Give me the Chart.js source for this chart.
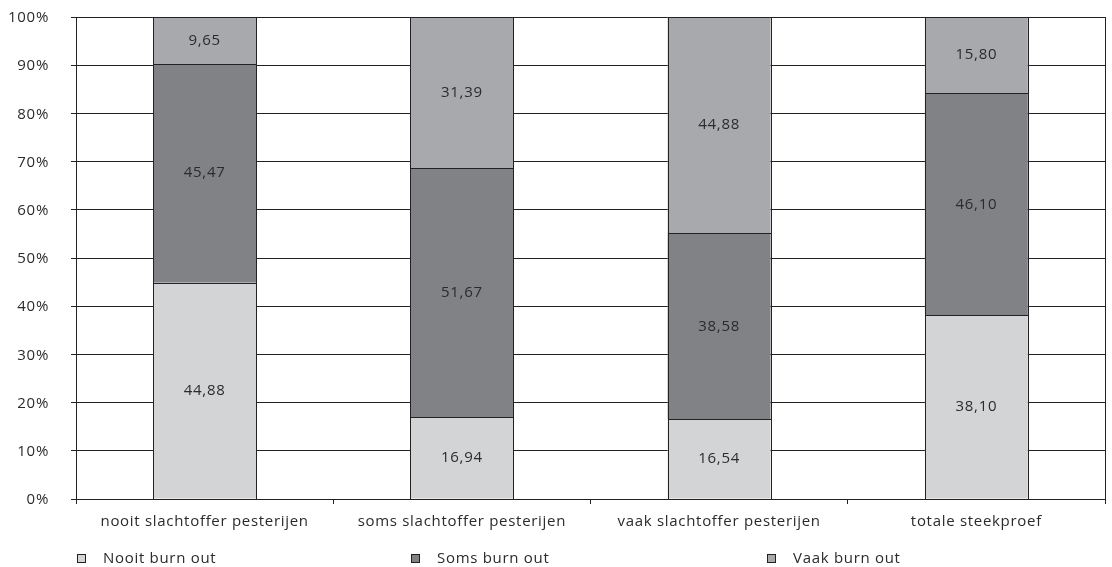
<!DOCTYPE html>
<html>
<head>
<meta charset="utf-8">
<script src="https://cdn.jsdelivr.net/npm/chart.js@4"></script>
<style>
  html, body { margin: 0; padding: 0; background: #fff; }
  #wrap { width: 1112px; height: 567px; }
</style>
</head>
<body>
<div id="wrap"><canvas id="c" width="1112" height="567"></canvas></div>
<script>
// Burn-out share (%) per bullying-victim group
const categories = ['nooit slachtoffer pesterijen', 'soms slachtoffer pesterijen', 'vaak slachtoffer pesterijen', 'totale steekproef'];
const seriesNames = ['Nooit burn out', 'Soms burn out', 'Vaak burn out'];
const nooitBurnOut = [44.88, 16.94, 16.54, 38.10];
const somsBurnOut  = [45.47, 51.67, 38.58, 46.10];
const vaakBurnOut  = [9.65, 31.39, 44.88, 15.80];
const yTicks = [0, 10, 20, 30, 40, 50, 60, 70, 80, 90, 100];

const FONT = '"Open Sans", "DejaVu Sans", sans-serif';
const TEXT = '#2b2b2b';
const LINE = '#222222';
const fills = ['#d3d4d6', '#818285', '#a8a9ac'];

const fmt = v => v.toFixed(2).replace('.', ',');

// Slightly airy letter spacing for all canvas text
const spacing = {
  id: 'spacing',
  beforeDraw(chart) { chart.ctx.letterSpacing = '0.7px'; }
};

// Crisp outlines round each stacked segment
const segmentOutlines = {
  id: 'segmentOutlines',
  afterDatasetsDraw(chart) {
    const ctx = chart.ctx;
    ctx.save();
    ctx.strokeStyle = LINE;
    ctx.lineWidth = 1;
    chart.data.datasets.forEach((ds, i) => {
      chart.getDatasetMeta(i).data.forEach(bar => {
        const p = bar.getProps(['x', 'y', 'base', 'width'], true);
        const l = Math.round(p.x - p.width / 2) + 0.5;
        const r = Math.round(p.x + p.width / 2) + 0.5;
        const t = Math.round(Math.min(p.y, p.base)) + 0.5;
        const b = Math.round(Math.max(p.y, p.base)) + 0.5;
        ctx.strokeRect(l, t, r - l, b - t);
      });
    });
    ctx.restore();
  }
};

// Value labels centred inside each segment
const segmentLabels = {
  id: 'segmentLabels',
  afterDatasetsDraw(chart) {
    const ctx = chart.ctx;
    ctx.save();
    ctx.font = '15px ' + FONT;
    ctx.fillStyle = TEXT;
    ctx.textAlign = 'center';
    ctx.textBaseline = 'middle';
    chart.data.datasets.forEach((ds, i) => {
      chart.getDatasetMeta(i).data.forEach((bar, j) => {
        const p = bar.getProps(['x', 'y', 'base'], true);
        ctx.fillText(fmt(ds.data[j]), p.x, (p.y + p.base) / 2);
      });
    });
    ctx.restore();
  }
};

// Right-hand frame line of the plot area
const frameRight = {
  id: 'frameRight',
  beforeDatasetsDraw(chart) {
    const a = chart.chartArea, ctx = chart.ctx;
    ctx.save();
    ctx.strokeStyle = LINE;
    ctx.lineWidth = 1;
    ctx.beginPath();
    ctx.moveTo(Math.round(a.right) + 0.5, a.top);
    ctx.lineTo(Math.round(a.right) + 0.5, a.bottom);
    ctx.stroke();
    ctx.restore();
  }
};

// Legend row along the bottom
const bottomLegend = {
  id: 'bottomLegend',
  afterDraw(chart) {
    const ctx = chart.ctx;
    const xs = [77, 411, 767];
    const y = 559;
    ctx.save();
    ctx.font = '15px ' + FONT;
    ctx.textBaseline = 'middle';
    ctx.textAlign = 'left';
    seriesNames.forEach((name, i) => {
      ctx.fillStyle = fills[i];
      ctx.fillRect(xs[i] + 0.5, y - 4.5, 8, 8);
      ctx.strokeStyle = LINE;
      ctx.lineWidth = 1;
      ctx.strokeRect(xs[i] + 0.5, y - 4.5, 8, 8);
      ctx.fillStyle = TEXT;
      ctx.fillText(name, xs[i] + 26, y);
    });
    ctx.restore();
  }
};

const series = [nooitBurnOut, somsBurnOut, vaakBurnOut];

new Chart(document.getElementById('c'), {
  type: 'bar',
  data: {
    labels: categories,
    datasets: series.map((d, i) => ({
      label: seriesNames[i],
      data: d,
      backgroundColor: fills[i],
      borderWidth: 0,
      categoryPercentage: 0.4,
      barPercentage: 1.0
    }))
  },
  options: {
    responsive: false,
    animation: false,
    layout: { padding: { top: 17, right: 7, left: 0, bottom: 0 } },
    plugins: {
      legend: { display: false },
      tooltip: { enabled: false }
    },
    scales: {
      x: {
        stacked: true,
        offset: true,
        grid: {
          offset: true,
          drawOnChartArea: false,
          drawTicks: true,
          tickLength: 5,
          color: LINE
        },
        border: { color: LINE, width: 1 },
        ticks: {
          color: TEXT,
          font: { family: FONT, size: 15 },
          padding: 9,
          maxRotation: 0,
          autoSkip: false
        },
        afterFit(s) { s.height = 68; s.paddingLeft = 0; s.paddingRight = 0; }
      },
      y: {
        stacked: true,
        min: 0,
        max: 100,
        afterBuildTicks(s) { s.ticks = yTicks.map(v => ({ value: v })); },
        grid: {
          color: LINE,
          tickLength: 5,
          drawTicks: true
        },
        border: { color: LINE, width: 1 },
        ticks: {
          color: TEXT,
          font: { family: FONT, size: 15 },
          padding: 22,
          labelOffset: 1,
          callback: v => v + '%'
        },
        afterFit(s) { s.width = 76; s.paddingTop = 0; s.paddingBottom = 0; }
      }
    }
  },
  plugins: [spacing, segmentOutlines, segmentLabels, frameRight, bottomLegend]
});
</script>
</body>
</html>
